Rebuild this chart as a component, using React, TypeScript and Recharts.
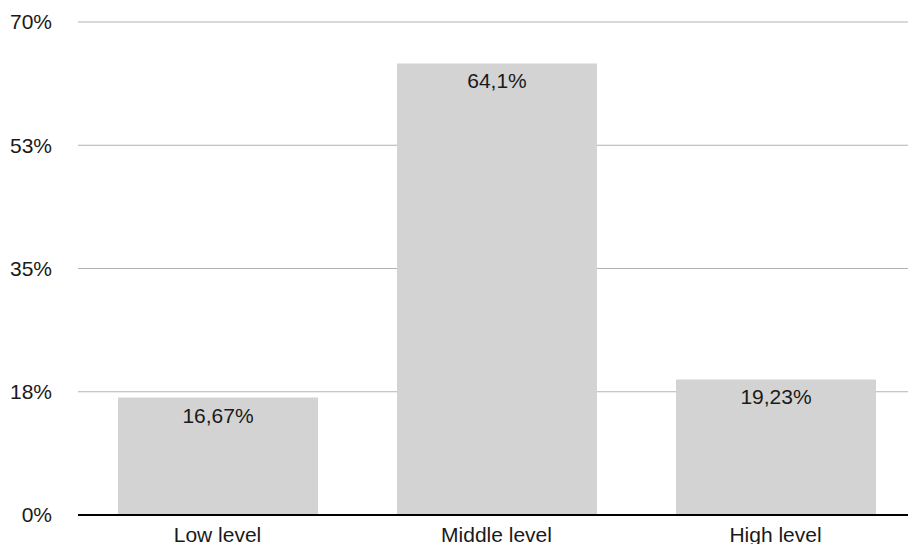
import React from 'react';
import { BarChart, Bar, XAxis, YAxis, CartesianGrid, LabelList } from 'recharts';

const levels = ['Low level', 'Middle level', 'High level'];
const shares = [16.67, 64.1, 19.23];
const yTicks = [0, 17.5, 35, 52.5, 70];

const data = levels.map((name, i) => ({ name, share: shares[i] }));

const font = { fontFamily: '"Liberation Sans", Arial, sans-serif', fontSize: 21, fill: '#1a1a1a' };

const App = () => {
  return (
    <div style={{ position: 'absolute', left: 0, top: 0, width: 908, height: 544, overflow: 'hidden', background: '#fff' }}>
      <BarChart width={915} height={544} data={data} margin={{ top: 22, right: 0, bottom: 0, left: 0 }} barSize={200}>
        <CartesianGrid vertical={false} stroke="#b3b3b3" />
        <XAxis
          dataKey="name"
          height={29}
          tickLine={false}
          tickSize={0}
          tickMargin={12}
          axisLine={{ stroke: '#000', strokeWidth: 2 }}
          tick={font}
        />
        <YAxis
          width={78}
          domain={[0, 70]}
          ticks={yTicks}
          tickFormatter={(v: number) => `${Math.round(v)}%`}
          axisLine={false}
          tickLine={false}
          tickSize={0}
          tickMargin={26}
          tick={font}
        />
        <Bar dataKey="share" fill="#d3d3d3" isAnimationActive={false}>
          <LabelList
            dataKey="share"
            position="insideTop"
            offset={10}
            formatter={(v: number) => `${String(v).replace('.', ',')}%`}
            style={font}
          />
        </Bar>
      </BarChart>
    </div>
  );
};

export default App;
